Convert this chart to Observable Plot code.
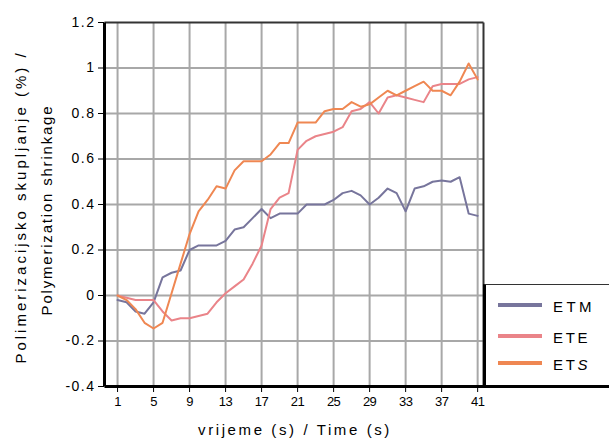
<!DOCTYPE html>
<html><head><meta charset="utf-8">
<script src="https://cdn.jsdelivr.net/npm/d3@7"></script>
<script src="https://cdn.jsdelivr.net/npm/@observablehq/plot@0.6"></script>
<style>
body{margin:0;background:#fff}
#chart{position:relative;width:609px;height:438px;overflow:hidden;font-family:'Liberation Sans',Arial,sans-serif;color:#000}
#chart svg{position:absolute;left:0;top:0}
#chart svg [aria-label="y-axis tick label"] text{letter-spacing:1.5px}
#chart svg [aria-label="x-axis tick label"] text{letter-spacing:-0.5px;font-size:13px}
.ttl{position:absolute;font-size:15px;line-height:15px;white-space:nowrap;transform:translate(-50%,-50%)}
.rot{transform:translate(-50%,-50%) rotate(-90deg)}
#legend{position:absolute;left:483px;top:284.25px;width:126px;height:103.25px;box-sizing:border-box;border-left:3px solid #000;border-top:1.5px solid #333;border-bottom:3px solid #000}
.sw{position:absolute;left:498px;width:44px;height:4px}
.lt{position:absolute;left:553px;font-size:15px;line-height:15px;white-space:nowrap;transform:translateY(-50%)}
</style>
</head><body><div id="chart"></div>
<script>
const time = d3.range(1, 42);
const etm = [-0.02,-0.03,-0.07,-0.08,-0.03,0.08,0.10,0.11,0.20,0.22,0.22,0.22,0.24,0.29,0.30,0.34,0.38,0.34,0.36,0.36,0.36,0.40,0.40,0.40,0.42,0.45,0.46,0.44,0.40,0.43,0.47,0.45,0.37,0.47,0.48,0.50,0.505,0.50,0.52,0.36,0.35];
const ete = [0.00,-0.01,-0.02,-0.02,-0.02,-0.07,-0.11,-0.10,-0.10,-0.09,-0.08,-0.03,0.01,0.04,0.07,0.14,0.22,0.38,0.43,0.45,0.64,0.68,0.70,0.71,0.72,0.74,0.81,0.82,0.85,0.80,0.87,0.88,0.87,0.86,0.85,0.92,0.93,0.93,0.93,0.95,0.96];
const ets = [0.00,-0.02,-0.06,-0.12,-0.145,-0.12,0.01,0.14,0.27,0.37,0.42,0.48,0.47,0.55,0.59,0.59,0.59,0.62,0.67,0.67,0.76,0.76,0.76,0.81,0.82,0.82,0.85,0.83,0.84,0.87,0.90,0.88,0.90,0.92,0.94,0.90,0.90,0.88,0.94,1.02,0.95];
const seriesNames = ["ETM", "ETE", "ETS"];
const seriesColors = ["#77759c", "#ea8489", "#ef8752"];
const xTicks = [1, 5, 9, 13, 17, 21, 25, 29, 33, 37, 41];
const yTicks = [-0.4, -0.2, 0, 0.2, 0.4, 0.6, 0.8, 1, 1.2];
const yLabelLines = ["Polimerizacijsko skupljanje (%) /", "Polymerization shrinkage"];
const xLabel = "vrijeme (s) / Time (s)";

const seriesValues = [etm, ete, ets];
const data = [];
seriesNames.forEach((name, i) => time.forEach((t, j) => data.push({time: t, value: seriesValues[i][j], series: name})));

const W = 609, H = 438, ML = 104, MR = 126, MT = 22, MB = 52;
const xDom = [-0.45, 41.65], yDom = [-0.4, 1.2];
const gridY = yTicks.filter(v => v > yDom[0] && v < yDom[1]);

// grid and frame drawn as link (path) marks
const vLink = (vals, opts) => Plot.link(vals, {x1: d => d, x2: d => d, y1: () => yDom[0], y2: () => yDom[1], ...opts});
const hLink = (vals, opts) => Plot.link(vals, {y1: d => d, y2: d => d, x1: () => xDom[0], x2: () => xDom[1], ...opts});

const chart = document.getElementById("chart");
const plot = Plot.plot({
  width: W, height: H,
  marginLeft: ML, marginRight: MR, marginTop: MT, marginBottom: MB,
  style: {fontFamily: "'Liberation Sans', Arial, sans-serif", fontSize: "14px", color: "#000", background: "#fff"},
  x: {domain: xDom, ticks: xTicks, tickSize: 6, tickPadding: 4, label: null, tickFormat: d => String(d)},
  y: {domain: yDom, ticks: yTicks, tickSize: 6, tickPadding: 3, label: null, tickFormat: d => String(Math.round(d * 10) / 10)},
  color: {domain: seriesNames, range: seriesColors},
  marks: [
    vLink(xTicks, {stroke: "#a8a8a8", strokeWidth: 2}),
    hLink(gridY, {stroke: "#a8a8a8", strokeWidth: 2}),
    Plot.line(data, {x: "time", y: "value", z: "series", stroke: "series", strokeWidth: 2}),
    hLink([yDom[1]], {stroke: "#333", strokeWidth: 2}),
    vLink([xDom[1]], {stroke: "#333", strokeWidth: 2}),
    vLink([xDom[0]], {stroke: "#000", strokeWidth: 3}),
    hLink([yDom[0]], {stroke: "#000", strokeWidth: 3})
  ]
});
chart.appendChild(plot);

function addDiv(cls, css, html) {
  const d = document.createElement("div");
  d.className = cls;
  Object.assign(d.style, css);
  if (html != null) d.innerHTML = html;
  chart.appendChild(d);
  return d;
}
addDiv("ttl rot", {left: "20px", top: "207px", letterSpacing: "3px"}, yLabelLines[0]);
addDiv("ttl rot", {left: "46px", top: "210px", letterSpacing: "1.8px"}, yLabelLines[1]);
addDiv("ttl", {left: "295px", top: "429px", letterSpacing: "2.6px"}, xLabel);

addDiv("", {}, null).id = "legend";
const legY = [305, 336, 363];
seriesNames.forEach((n, i) => {
  addDiv("sw", {top: (legY[i] - 2) + "px", background: seriesColors[i]}, null);
  const label = n === "ETS" ? "ET<i>S</i>" : n;
  addDiv("lt", {top: (legY[i] + 1) + "px", letterSpacing: i === 0 ? "3.4px" : "2.7px"}, label);
});
</script>
</body></html>
